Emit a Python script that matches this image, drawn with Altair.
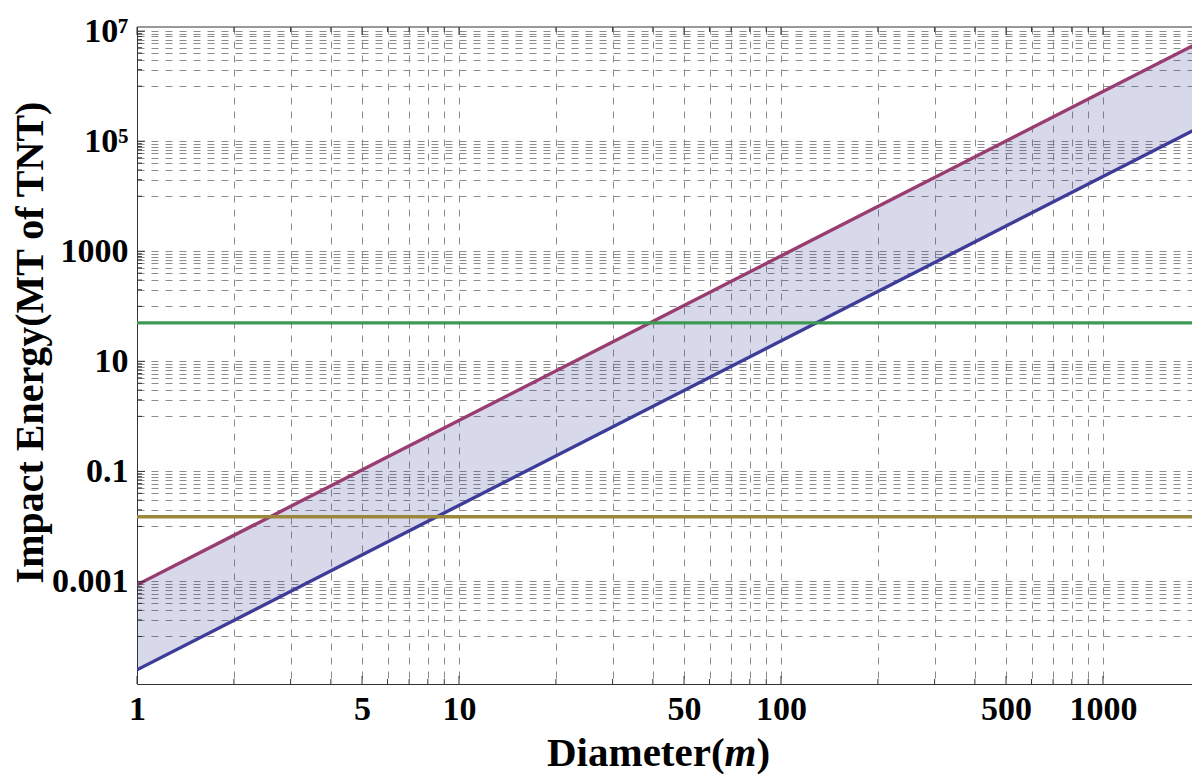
import altair as alt
import pandas as pd

# ---- data ----
diameters = [1, 2000]                 # m
energy_low = [2.48e-5, 1.81e5]        # MT of TNT (lower bound line)
energy_high = [8.7e-4, 6.35e6]        # MT of TNT (upper bound line)
tsar_bomba = [50]                     # MT (green horizontal)
little_boy = [0.015]                  # MT (olive horizontal)

x_major = [1, 5, 10, 50, 100, 500, 1000]
x_major_labels = ["1", "5", "10", "50", "100", "500", "1000"]
x_grid = [m * 10 ** k for k in range(0, 4) for m in range(1, 10) if m * 10 ** k < 1890]
y_major = [0.001, 0.1, 10, 1000, 1e5, 1e7]
y_major_labels = ["0.001", "0.1", "10", "1000", "10⁵", "10⁷"]
y_grid = []
for v in y_major:
    y_grid += [v * m / 10 for m in range(1, 10)] + [v]
y_minor = [v for v in y_grid if v not in y_major]
x_minor = [v for v in x_grid if v not in x_major]

W, H = 1055, 657
FONT = "Liberation Serif"

xscale = alt.Scale(type="log", domain=[1, 1890], nice=False)
yscale = alt.Scale(type="log", domain=[1.37e-5, 1.19e7], nice=False)


def label_expr(vals, labs):
    return " : ".join("datum.value == %r ? '%s'" % (float(v), l) for v, l in zip(vals, labs)) + " : ''"


common = dict(grid=True, gridDash=[7, 7], gridColor="#8c8c8c", gridWidth=1,
              ticks=False, domainColor="#333333", domainWidth=1,
              labelFont=FONT, labelFontWeight="bold", labelFontSize=34, labelColor="black",
              labelFlush=False, labelOverlap=False)

x_axis = alt.Axis(values=x_grid, labelExpr=label_expr(x_major, x_major_labels),
                  labelPadding=8, title=None, **common)
y_axis = alt.Axis(values=y_grid, labelExpr=label_expr(y_major, y_major_labels),
                  labelPadding=9,
                  title="Impact Energy(MT of TNT)", titleFont=FONT, titleFontWeight="bold",
                  titleFontSize=40, titleColor="black", titleX=-95, titleY=315,
                  titleAlign="center", titleBaseline="alphabetic", titleAngle=270, **common)

band = pd.DataFrame({"D": diameters, "low": energy_low, "high": energy_high})

area = alt.Chart(band).mark_area(color="#3D3D99", opacity=0.2, clip=True).encode(
    x=alt.X("D:Q", scale=xscale, axis=x_axis),
    y=alt.Y("low:Q", scale=yscale, axis=y_axis),
    y2="high:Q",
)
low_line = alt.Chart(band).mark_line(color="#3D3D99", strokeWidth=3.4, clip=True).encode(
    x=alt.X("D:Q", scale=xscale, axis=x_axis),
    y=alt.Y("low:Q", scale=yscale, axis=y_axis),
)
high_line = alt.Chart(band).mark_line(color="#993D71", strokeWidth=3.4, clip=True).encode(
    x=alt.X("D:Q", scale=xscale, axis=x_axis),
    y=alt.Y("high:Q", scale=yscale, axis=y_axis),
)
green = alt.Chart(pd.DataFrame({"E": tsar_bomba})).mark_rule(color="#3D9954", strokeWidth=3.4).encode(
    y=alt.Y("E:Q", scale=yscale, axis=y_axis))
olive = alt.Chart(pd.DataFrame({"E": little_boy})).mark_rule(color="#9A883D", strokeWidth=3.4).encode(
    y=alt.Y("E:Q", scale=yscale, axis=y_axis))


def xticks(vals, length):
    df = pd.DataFrame({"v": vals})
    bottom = alt.Chart(df).mark_rule(color="#333333", strokeWidth=1).encode(
        x=alt.X("v:Q", scale=xscale, axis=x_axis), y=alt.value(H), y2=alt.value(H - length))
    top = alt.Chart(df).mark_rule(color="#333333", strokeWidth=1).encode(
        x=alt.X("v:Q", scale=xscale, axis=x_axis), y=alt.value(0), y2=alt.value(length))
    return [bottom, top]


def yticks(vals, length):
    df = pd.DataFrame({"v": vals})
    return [alt.Chart(df).mark_rule(color="#333333", strokeWidth=1).encode(
        y=alt.Y("v:Q", scale=yscale, axis=y_axis), x=alt.value(0), x2=alt.value(length))]


top_frame = alt.Chart(pd.DataFrame({"a": [0]})).mark_rule(color="#333333", strokeWidth=1).encode(
    x=alt.value(0), x2=alt.value(W), y=alt.value(0))


def title_piece(txt, x, style):
    return alt.Chart(pd.DataFrame({"t": [txt]})).mark_text(
        font=FONT, fontSize=41, fontWeight="bold", fontStyle=style, color="black",
        align="left", baseline="alphabetic").encode(
        text="t:N", x=alt.value(x), y=alt.value(H + 82))


x_title = [title_piece("Diameter(", 410, "normal"),
           title_piece("m", 587.6, "italic"),
           title_piece(")", 619.5, "normal")]

layers = [area, low_line, high_line, green, olive, top_frame]
layers += xticks(x_minor, 5) + xticks(x_major, 8) + yticks(y_minor, 5) + yticks(y_major, 8)
layers += x_title

chart = alt.layer(*layers).properties(
    width=W, height=H,
    autosize=alt.AutoSizeParams(type="none"),
    padding={"left": 129, "top": 19, "right": 0, "bottom": 90},
    background="white",
).configure_view(stroke=None)

chart.save("out.html", embed_options={"renderer": "svg", "actions": False})
